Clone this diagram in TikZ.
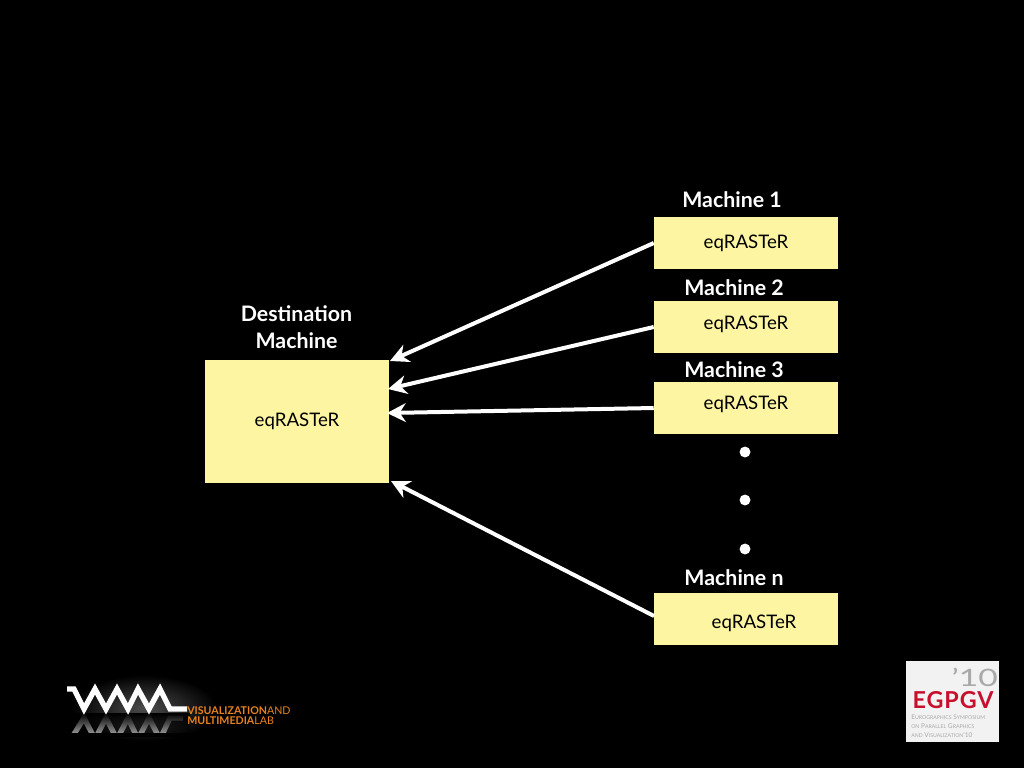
\documentclass[tikz,border=0pt]{standalone}
\usepackage{fontspec}
\setmainfont{Lato}
\usetikzlibrary{arrows.meta,fadings,shadings}
\definecolor{boxy}{HTML}{FDF5A2}
\definecolor{wmorange}{HTML}{E8821E}
\definecolor{egred}{HTML}{C8102E}
\definecolor{eggray}{HTML}{A9A9A9}
\newcommand\smc[1]{{\fontsize{3.9}{7}\selectfont #1}}
\tikzset{
  x=0.75pt,y=-0.75pt,
  box/.style={fill=boxy,draw=none,inner sep=0pt,text=black,font=\fontsize{14}{16}\selectfont},
  lbl/.style={text=white,inner sep=0pt,align=center,font=\fontsize{16}{20.5}\selectfont\bfseries},
  conn/.style={draw=white,line width=3pt,-{Stealth[length=14pt,width=14pt,inset=4.5pt]}},
  dotn/.style={circle,fill=white,draw=none,minimum size=8.2pt,inner sep=0pt},
  zig/.style={line width=4pt,miter limit=10}
}
\begin{document}
\begin{tikzpicture}
\useasboundingbox[fill=black] (0,0) rectangle (1024,768);
% boxes
\node[box,minimum width=138pt,minimum height=92.25pt] (dest) at (297,421.5) {eqRASTeR};
\node[box,minimum width=138pt,minimum height=39pt] (m1) at (746,243) {eqRASTeR};
\node[box,minimum width=138pt,minimum height=39pt] (m2) at (746,327) {};
\node[box,minimum width=138pt,minimum height=39pt] (m3) at (746,408) {};
\node[box,minimum width=138pt,minimum height=39pt] (mn) at (746,619) {};
\node[box,fill=none] (t2) at (746,324) {eqRASTeR};
\node[box,fill=none] (t3) at (746,404) {eqRASTeR};
\node[box,fill=none] (tn) at (754,623) {eqRASTeR};
% labels
\node[lbl] (l0) at (296.5,327) {Destination\\Machine};
\node[lbl] (l1) at (732,200) {Machine 1};
\node[lbl] (l2) at (734,288) {Machine 2};
\node[lbl] (l3) at (734,370) {Machine 3};
\node[lbl] (ln) at (734,578) {Machine n};
% dots
\node[dotn] (d1) at (745,452) {};
\node[dotn] (d2) at (745,500) {};
\node[dotn] (d3) at (745,549) {};
% connectors
\coordinate (a1) at (390,361);
\coordinate (a2) at (388,389);
\coordinate (a3) at (387,413);
\coordinate (an) at (391,481);
\draw[conn] (m1.west) -- (a1);
\draw[conn] (m2.west) -- (a2);
\draw[conn] (m3.west) -- (a3);
\draw[conn] (654,616) -- (an);
% WM logo
\fill[inner color=white!30!black,outer color=black] (72,675) rectangle (217,741);
\begin{scope}
\clip (60,713) rectangle (190,736);
\draw[white!60!black,zig] (71,739) -- (84,718) -- (95,739) -- (106,718) -- (117,739) -- (128,718) -- (138,739) -- (149,718) -- (160,739) -- (170,718) -- (183,718);
\fill[black,path fading=south] (60,713) rectangle (190,734);
\fill[black] (60,733) rectangle (190,737);
\end{scope}
\draw[white,zig] (67,689) -- (74,689) -- (84,709) -- (95,689) -- (106,709) -- (117,689) -- (128,709) -- (138,689) -- (149,709) -- (160,689) -- (170,709) -- (187,709);
\node[text=wmorange,inner sep=0pt,anchor=west,font=\fontsize{8}{8}\selectfont\bfseries] (w1) at (187,711) {VISUALIZATION\textmd{AND}};
\node[text=wmorange,inner sep=0pt,anchor=west,font=\fontsize{8}{8}\selectfont\bfseries] (w2) at (187,721) {MULTIMEDIA\textmd{LAB}};
% EGPGV logo
\fill[white!95!black] (906,661) rectangle (999,742);
\node[text=egred,inner sep=0pt,font=\fontsize{17.5}{18}\selectfont\bfseries\addfontfeature{LetterSpace=4}] (eg) at (953,700) {EGPGV};
\node[text=eggray,inner sep=0pt,anchor=south east,font=\fontsize{18}{18}\selectfont] (ten) at (998,687) {\scalebox{1.4}[1]{’10}};
\node[text=eggray,inner sep=0pt,align=left,anchor=north west,font=\fontsize{4.9}{6.8}\selectfont] (egt) at (911,714) {E\smc{UROGRAPHICS} S\smc{YMPOSIUM}\\\smc{ON} P\smc{ARALLEL} G\smc{RAPHICS}\\\smc{AND} V\smc{ISUALIZATION}’10};
\end{tikzpicture}
\end{document}
